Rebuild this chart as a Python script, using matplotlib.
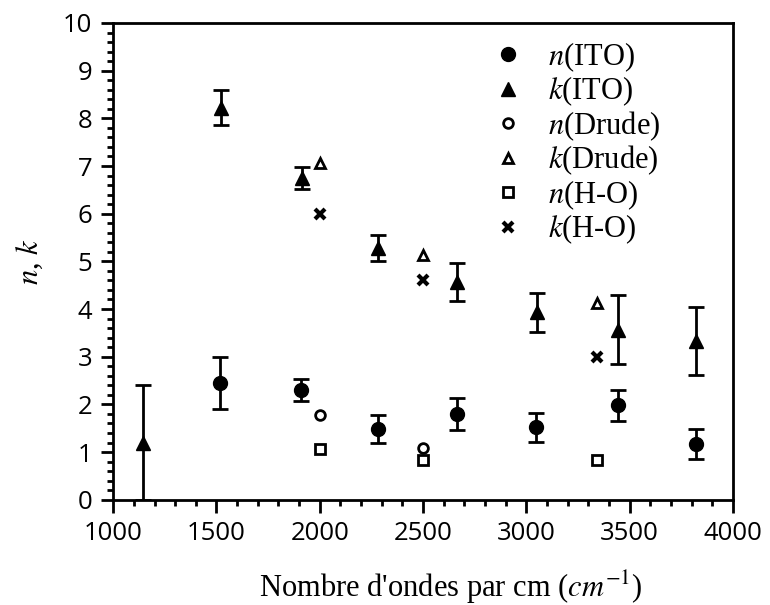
import matplotlib.pyplot as plt
from matplotlib.lines import Line2D
from matplotlib.ticker import MultipleLocator

# n and k for ITO with error bars
x_ito_n = [1518, 1910, 2281, 2663, 3047, 3443, 3819]
n_ito = [2.45, 2.30, 1.48, 1.80, 1.52, 1.98, 1.17]
n_ito_err = [0.55, 0.23, 0.30, 0.33, 0.30, 0.33, 0.32]

x_ito_k = [1145, 1521, 1913, 2281, 2664, 3050, 3443, 3819]
k_ito = [1.20, 8.22, 6.75, 5.28, 4.57, 3.93, 3.57, 3.33]
k_ito_err = [1.20, 0.37, 0.23, 0.27, 0.40, 0.41, 0.72, 0.72]

# Drude model
x_drude = [2000, 2500, 3340]
n_drude = [1.78, 1.09]
k_drude = [7.06, 5.13, 4.13]

# H-O model
x_ho = [2000, 2500, 3340]
n_ho = [1.07, 0.84, 0.84]
k_ho = [6.0, 4.61, 3.0]

labels = ['$n$(ITO)', '$k$(ITO)', '$n$(Drude)', '$k$(Drude)', '$n$(H-O)', '$k$(H-O)']

plt.rcParams['font.family'] = ['Liberation Serif', 'DejaVu Serif']
plt.rcParams['mathtext.fontset'] = 'stix'

fig = plt.figure(figsize=(7.7, 6.05), dpi=100)
ax = fig.add_axes([0.147, 0.174, 0.805, 0.788])

ax.errorbar(x_ito_n, n_ito, yerr=n_ito_err, fmt='o', color='black', ms=10,
            elinewidth=2, capsize=6, capthick=2)
ax.errorbar(x_ito_k, k_ito, yerr=k_ito_err, fmt='^', color='black', ms=10,
            elinewidth=2, capsize=6, capthick=2)
ax.plot(x_drude[:2], n_drude, 'o', mfc='white', mec='black', mew=2, ms=7)
ax.plot(x_drude, k_drude, '^', mfc='white', mec='black', mew=2, ms=7)
ax.plot(x_ho, n_ho, 's', mfc='white', mec='black', mew=2, ms=7)
ax.plot(x_ho, k_ho, 'x', color='black', mew=3, ms=7)

ax.set_xlim(1000, 4000)
ax.set_ylim(0, 10)
ax.xaxis.set_major_locator(MultipleLocator(500))
ax.xaxis.set_minor_locator(MultipleLocator(100))
ax.yaxis.set_major_locator(MultipleLocator(1))
ax.yaxis.set_minor_locator(MultipleLocator(0.2))
ax.tick_params(which='major', direction='out', length=9, width=2, pad=6)
ax.tick_params(which='minor', direction='out', length=4.5, width=2)
for lab in ax.get_xticklabels() + ax.get_yticklabels():
    lab.set_fontfamily('Open Sans')
    lab.set_fontsize(18.5)
for s in ax.spines.values():
    s.set_linewidth(2)

ax.set_xlabel("Nombre d'ondes par cm ($cm^{-1}$)", fontsize=22)
ax.xaxis.set_label_coords(0.544, -0.145)
ax.set_ylabel('$n$, $k$', fontsize=22)
ax.yaxis.set_label_coords(-0.11, 0.5)

handles = [
    Line2D([], [], ls='none', marker='o', color='black', ms=10),
    Line2D([], [], ls='none', marker='^', color='black', ms=10),
    Line2D([], [], ls='none', marker='o', mfc='white', mec='black', mew=2, ms=7),
    Line2D([], [], ls='none', marker='^', mfc='white', mec='black', mew=2, ms=7),
    Line2D([], [], ls='none', marker='s', mfc='white', mec='black', mew=2, ms=7),
    Line2D([], [], ls='none', marker='x', color='black', mew=3, ms=7),
]
ax.legend(handles, labels, loc='upper left', bbox_to_anchor=(0.612, 0.964),
          frameon=False, fontsize=22, handlelength=1.0, handletextpad=0.8,
          labelspacing=0.03, borderpad=0, borderaxespad=0)

fig.savefig('out.png', dpi=100)
